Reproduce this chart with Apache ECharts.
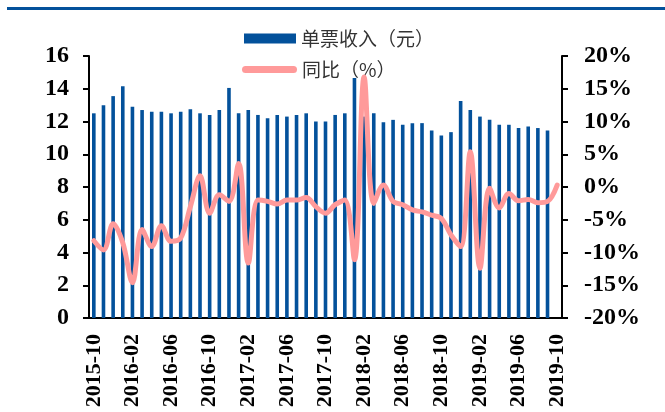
<!DOCTYPE html>
<html>
<head>
<meta charset="utf-8">
<script src="https://cdn.jsdelivr.net/npm/echarts@6/dist/echarts.min.js"></script>
<style>
  html, body { margin: 0; padding: 0; background: #fff; }
  #chart { width: 665px; height: 412px; }
</style>
</head>
<body>
<div id="chart"></div>
<script>
// Months from 2015-10 to 2019-10
const months = [
  '2015-10','2015-11','2015-12','2016-01','2016-02','2016-03','2016-04','2016-05','2016-06','2016-07','2016-08','2016-09',
  '2016-10','2016-11','2016-12','2017-01','2017-02','2017-03','2017-04','2017-05','2017-06','2017-07','2017-08','2017-09',
  '2017-10','2017-11','2017-12','2018-01','2018-02','2018-03','2018-04','2018-05','2018-06','2018-07','2018-08','2018-09',
  '2018-10','2018-11','2018-12','2019-01','2019-02','2019-03','2019-04','2019-05','2019-06','2019-07','2019-08','2019-09',
  '2019-10'
];

// 单票收入（元）
const revenuePerParcel = [
  12.5, 13.0, 13.55, 14.15, 12.9, 12.7, 12.6, 12.6, 12.5, 12.6, 12.75, 12.5,
  12.4, 12.7, 14.05, 12.5, 12.7, 12.4, 12.2, 12.4, 12.3, 12.4, 12.5, 12.0,
  12.0, 12.4, 12.5, 14.65, 12.3, 12.5, 11.95, 12.1, 11.8, 11.9, 11.9, 11.45,
  11.15, 11.35, 13.25, 12.7, 12.3, 12.1, 11.8, 11.8, 11.6, 11.7, 11.6, 11.45,
  null
];

// 同比（%）
const yoyPct = [
  -8.2, -9.6, -5.6, -8.5, -14.6, -6.5, -9.1, -5.9, -8.3, -7.8, -3.0, 1.7,
  -4.0, -1.2, -2.2, 3.6, -11.6, -2.0, -2.2, -2.6, -2.0, -2.0, -1.6, -3.0,
  -4.0, -2.7, -2.0, -11.1, 16.8, -2.5, 0.3, -2.2, -2.7, -3.5, -3.8, -4.3,
  -4.8, -7.3, -9.1, 5.4, -12.4, -0.2, -3.2, -1.0, -2.1, -1.9, -2.4, -2.2,
  0.3
];

const leftTicks = { min: 0, max: 16, step: 2 };
const rightTicks = { min: -20, max: 20, step: 5 };

const BLUE = '#03519B';
const PINK = '#FF9A9A';
const AXIS_FONT = { fontFamily: 'Liberation Serif', fontWeight: 'bold', fontSize: 24, color: '#000' };
const LEGEND_FONT = { fontFamily: 'Noto Sans CJK SC', fontSize: 19, color: '#333' };

const chart = echarts.init(document.getElementById('chart'), null, { renderer: 'canvas' });

chart.setOption({
  animation: false,
  backgroundColor: '#fff',
  graphic: [{
    type: 'rect',
    left: 7, top: 7,
    shape: { width: 658, height: 3 },
    style: { fill: BLUE }
  }],
  legend: [{
    data: ['单票收入（元）'],
    left: 244, top: 29,
    padding: 0,
    itemWidth: 52, itemHeight: 10,
    icon: 'rect',
    textStyle: LEGEND_FONT
  }, {
    data: ['同比（%）'],
    left: 242, top: 60,
    padding: 0,
    itemWidth: 55, itemHeight: 7,
    icon: 'path://M3.5,0 H51.5 A3.5,3.5 0 0 1 51.5,7 H3.5 A3.5,3.5 0 0 1 3.5,0 Z',
    textStyle: LEGEND_FONT
  }],
  grid: { left: 89, right: 103, top: 56, bottom: 94, containLabel: false },
  xAxis: {
    type: 'category',
    data: months,
    boundaryGap: true,
    axisLine: { lineStyle: { color: '#000', width: 2 } },
    axisTick: { interval: 3, length: 6, lineStyle: { color: '#000', width: 2 } },
    axisLabel: Object.assign({ interval: 3, rotate: 90, margin: 16 }, AXIS_FONT, { fontSize: 22 }),
    splitLine: { show: false }
  },
  yAxis: [{
    type: 'value',
    min: leftTicks.min, max: leftTicks.max, interval: leftTicks.step,
    axisLine: { show: true, lineStyle: { color: '#000', width: 2 } },
    axisTick: { show: true, length: 6, lineStyle: { color: '#000', width: 2 } },
    axisLabel: Object.assign({ margin: 20 }, AXIS_FONT),
    splitLine: { show: false }
  }, {
    type: 'value',
    position: 'right',
    min: rightTicks.min, max: rightTicks.max, interval: rightTicks.step,
    axisLine: { show: true, lineStyle: { color: '#000', width: 2 } },
    axisTick: { show: true, length: 6, lineStyle: { color: '#000', width: 2 } },
    axisLabel: Object.assign({ margin: 22, formatter: '{value}%' }, AXIS_FONT),
    splitLine: { show: false }
  }],
  series: [{
    name: '单票收入（元）',
    type: 'bar',
    yAxisIndex: 0,
    data: revenuePerParcel,
    barWidth: 3.6,
    itemStyle: { color: BLUE }
  }, {
    name: '同比（%）',
    type: 'line',
    yAxisIndex: 1,
    data: yoyPct,
    smooth: 0.35,
    symbol: 'none',
    z: 5,
    lineStyle: { color: PINK, width: 5, cap: 'round', join: 'round' },
    itemStyle: { color: PINK }
  }]
});
</script>
</body>
</html>
